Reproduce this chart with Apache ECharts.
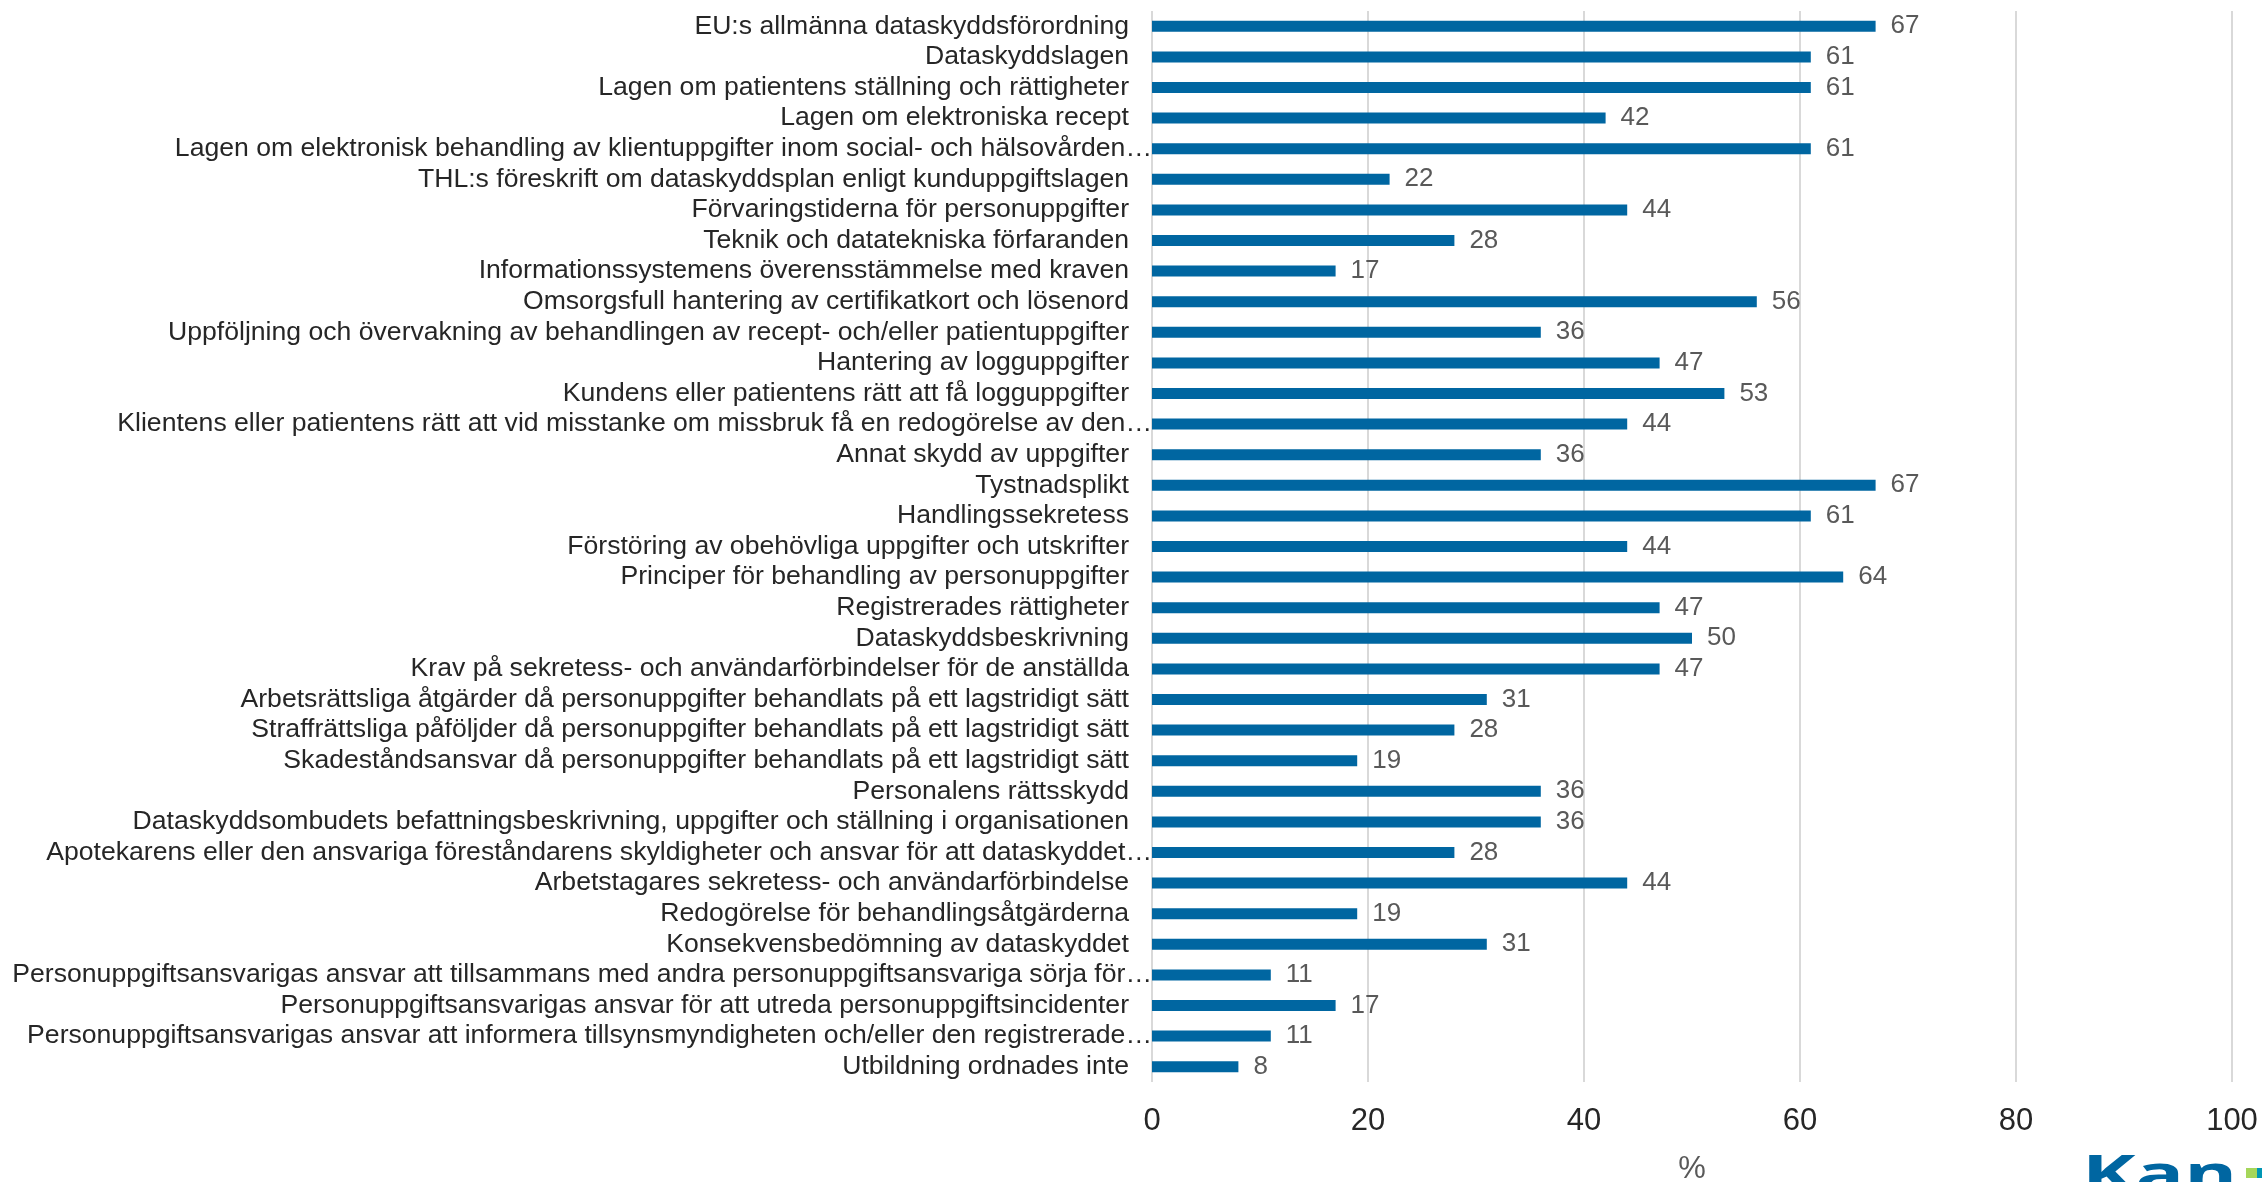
<!DOCTYPE html>
<html>
<head>
<meta charset="utf-8">
<script src="https://cdn.jsdelivr.net/npm/echarts@6/dist/echarts.min.js"></script>
<style>
html,body{margin:0;padding:0;background:#fff;}
#c{width:2262px;height:1182px;}
</style>
</head>
<body>
<div id="c"></div>
<script>
const categories = [
  "EU:s allmänna dataskyddsförordning",
  "Dataskyddslagen",
  "Lagen om patientens ställning och rättigheter",
  "Lagen om elektroniska recept",
  "Lagen om elektronisk behandling av klientuppgifter inom social- och hälsovården…",
  "THL:s föreskrift om dataskyddsplan enligt kunduppgiftslagen",
  "Förvaringstiderna för personuppgifter",
  "Teknik och datatekniska förfaranden",
  "Informationssystemens överensstämmelse med kraven",
  "Omsorgsfull hantering av certifikatkort och lösenord",
  "Uppföljning och övervakning av behandlingen av recept- och/eller patientuppgifter",
  "Hantering av logguppgifter",
  "Kundens eller patientens rätt att få logguppgifter",
  "Klientens eller patientens rätt att vid misstanke om missbruk få en redogörelse av den…",
  "Annat skydd av uppgifter",
  "Tystnadsplikt",
  "Handlingssekretess",
  "Förstöring av obehövliga uppgifter och utskrifter",
  "Principer för behandling av personuppgifter",
  "Registrerades rättigheter",
  "Dataskyddsbeskrivning",
  "Krav på sekretess- och användarförbindelser för de anställda",
  "Arbetsrättsliga åtgärder då personuppgifter behandlats på ett lagstridigt sätt",
  "Straffrättsliga påföljder då personuppgifter behandlats på ett lagstridigt sätt",
  "Skadeståndsansvar då personuppgifter behandlats på ett lagstridigt sätt",
  "Personalens rättsskydd",
  "Dataskyddsombudets befattningsbeskrivning, uppgifter och ställning i organisationen",
  "Apotekarens eller den ansvariga föreståndarens skyldigheter och ansvar för att dataskyddet…",
  "Arbetstagares sekretess- och användarförbindelse",
  "Redogörelse för behandlingsåtgärderna",
  "Konsekvensbedömning av dataskyddet",
  "Personuppgiftsansvarigas ansvar att tillsammans med andra personuppgiftsansvariga sörja för…",
  "Personuppgiftsansvarigas ansvar för att utreda personuppgiftsincidenter",
  "Personuppgiftsansvarigas ansvar att informera tillsynsmyndigheten och/eller den registrerade…",
  "Utbildning ordnades inte"
];
const values = [67, 61, 61, 42, 61, 22, 44, 28, 17, 56, 36, 47, 53, 44, 36, 67, 61, 44, 64, 47, 50, 47, 31, 28, 19, 36, 36, 28, 44, 19, 31, 11, 17, 11, 8];
const xTicks = { min: 0, max: 100, interval: 20 };
const axisName = "%";
const logoText = "Kan";

const FONT = "'Liberation Sans', Arial, sans-serif";
const catData = categories.map(c => c.endsWith("…")
  ? { value: c }
  : { value: c, textStyle: { padding: [0, 23, 0, 0] } });

const chart = echarts.init(document.getElementById('c'), null, { renderer: 'canvas' });
chart.setOption({
  backgroundColor: '#ffffff',
  animation: false,
  grid: { left: 1152, right: 30, top: 11, bottom: 100, containLabel: false, outerBoundsMode: 'none' },
  xAxis: {
    type: 'value',
    min: xTicks.min, max: xTicks.max, interval: xTicks.interval,
    name: axisName,
    nameLocation: 'middle',
    nameGap: 72,
    nameTextStyle: { fontFamily: FONT, fontSize: 31, color: '#595959' },
    axisLine: { show: false },
    axisTick: { show: false },
    axisLabel: { fontFamily: FONT, fontSize: 31, color: '#262626', margin: 24 },
    splitLine: { show: true, lineStyle: { color: '#d9d9d9', width: 2 } }
  },
  yAxis: {
    type: 'category',
    inverse: true,
    data: catData,
    axisLine: { show: false },
    axisTick: { show: false },
    axisLabel: { interval: 0, fontFamily: FONT, fontSize: 26.6, color: '#262626', margin: 0 }
  },
  series: [{
    type: 'bar',
    data: values,
    barWidth: 11,
    itemStyle: { color: '#0066A1' },
    label: {
      show: true, position: 'right', distance: 15,
      fontFamily: FONT, fontSize: 26, color: '#595959'
    }
  }],
  graphic: [
    { type: 'text', x: 2082, y: 1177, scaleX: 1.55, silent: true,
      style: { text: logoText, x: 0, y: 0, verticalAlign: 'middle', align: 'left',
               fontFamily: "'Open Sans', " + FONT, fontSize: 52, fontWeight: 'bold', fill: '#0066A1' } },
    { type: 'rect', x: 2246, y: 1168, silent: true, shape: { width: 11, height: 10 }, style: { fill: '#a5d65a' } },
    { type: 'rect', x: 2257, y: 1168, silent: true, shape: { width: 5, height: 10 }, style: { fill: '#0096b4' } }
  ]
});
</script>
</body>
</html>
